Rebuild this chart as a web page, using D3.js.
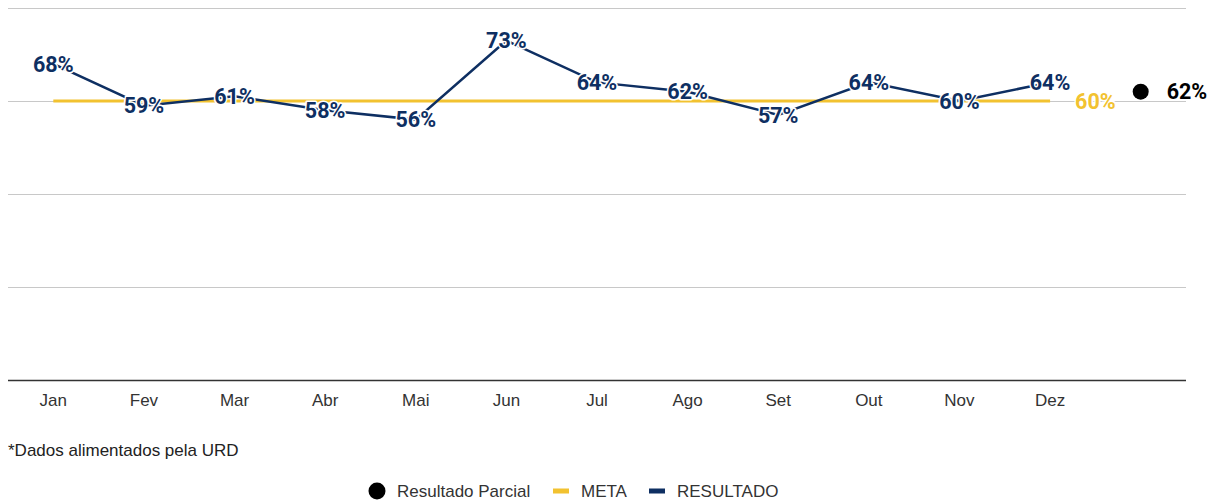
<!DOCTYPE html>
<html><head><meta charset="utf-8">
<script src="https://cdn.jsdelivr.net/npm/d3@7/dist/d3.min.js"></script>
<style>body{margin:0;background:#fff}svg{display:block}</style>
</head><body><svg id="c" width="1220" height="503"></svg>
<script>
const months = ["Jan","Fev","Mar","Abr","Mai","Jun","Jul","Ago","Set","Out","Nov","Dez"];
const slots = months.concat(["_parcial"]);
const resultado = [68,59,61,58,56,73,64,62,57,64,60,64];
const meta = [60,60,60,60,60,60,60,60,60,60,60,60];
const parcial = 62;
const yTicks = [0,20,40,60,80];
const footnote = "*Dados alimentados pela URD";
const legendItems = [
  {label:"Resultado Parcial", type:"circle", color:"#000"},
  {label:"META", type:"dash", color:"#f2c230"},
  {label:"RESULTADO", type:"dash", color:"#0e2f62"}
];
const NAVY = "#0e2f62", GOLD = "#f2c230";

(function(){
const svg = d3.select("#c");
const pLeft = 8, pRight = 1186, pTop = 8, pBottom = 380;
const x = d3.scaleBand().domain(slots).range([pLeft, pRight]);
const y = d3.scaleLinear().domain([0,80]).range([pBottom, pTop]);
const cx = d => x(d) + x.bandwidth()/2;

svg.append("g").selectAll("line").data(yTicks.filter(t=>t>0)).join("line")
  .attr("x1", pLeft).attr("x2", pRight)
  .attr("y1", d=>Math.round(y(d))+0.5).attr("y2", d=>Math.round(y(d))+0.5)
  .attr("stroke","#c8c8c8").attr("stroke-width",1);
svg.append("line").attr("x1",pLeft).attr("x2",pRight).attr("y1",y(0)+0.5).attr("y2",y(0)+0.5)
  .attr("stroke","#333").attr("stroke-width",1.5);

const axFont = "Liberation Sans, Arial, sans-serif";
svg.append("g").selectAll("text").data(months).join("text")
  .attr("x", d=>cx(d)).attr("y", 406).attr("text-anchor","middle")
  .attr("font-family",axFont).attr("font-size",17)
  .attr("fill","#333").text(d=>d);

const line = d3.line().x((d,i)=>cx(months[i])).y(d=>y(d));
svg.append("path").datum(meta).attr("d", line).attr("fill","none")
  .attr("stroke",GOLD).attr("stroke-width",3);
svg.append("path").datum(resultado).attr("d", line).attr("fill","none")
  .attr("stroke",NAVY).attr("stroke-width",2.5);

const lblFont = "Roboto, 'Noto Sans', sans-serif";
const FS = 21.5;
svg.append("g").selectAll("text").data(resultado).join("text")
  .attr("x",(d,i)=>cx(months[i])).attr("y",d=>y(d)).attr("dy","0.36em")
  .attr("text-anchor","middle").attr("font-family",lblFont).attr("font-weight",700)
  .attr("font-size",FS).attr("fill",NAVY)
  .attr("stroke","#fff").attr("stroke-width",3).attr("paint-order","stroke")
  .attr("stroke-linejoin","round")
  .text(d=>d+"%");

const lastI = meta.length-1;
svg.append("text").attr("x", cx(months[lastI])+25).attr("y", y(meta[lastI])).attr("dy","0.36em")
  .attr("font-family",lblFont).attr("font-weight",700).attr("font-size",FS)
  .attr("fill",GOLD).attr("stroke","#fff").attr("stroke-width",3).attr("paint-order","stroke")
  .text(meta[lastI]+"%");

svg.append("circle").attr("cx", cx("_parcial")).attr("cy", y(parcial)).attr("r",8).attr("fill","#000");
svg.append("text").attr("x", cx("_parcial")+26).attr("y", y(parcial)).attr("dy","0.36em")
  .attr("font-family",lblFont).attr("font-weight",700).attr("font-size",FS)
  .attr("fill","#000").attr("stroke","#fff").attr("stroke-width",3).attr("paint-order","stroke")
  .text(parcial+"%");

svg.append("text").attr("x",8).attr("y",456).attr("font-family",axFont)
  .attr("font-size",17).attr("fill","#222").text(footnote);

const lg = svg.append("g").attr("font-family",axFont).attr("font-size",17).attr("fill","#333");
const lx = [369, 553, 649];
legendItems.forEach((it,i)=>{
  const g = lg.append("g").attr("transform",`translate(${lx[i]},491)`);
  if(it.type==="circle"){
    g.append("circle").attr("cx",8).attr("cy",0).attr("r",8.5).attr("fill",it.color);
  } else {
    g.append("rect").attr("x",0).attr("y",-2.5).attr("width",16).attr("height",5).attr("fill",it.color);
  }
  g.append("text").attr("x",28).attr("dy","0.35em").text(it.label);
});
})();
</script></body></html>
